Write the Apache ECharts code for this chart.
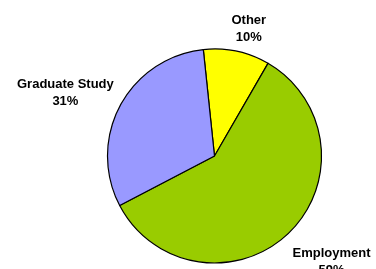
<!DOCTYPE html>
<html>
<head>
<meta charset="utf-8">
<script src="https://cdn.jsdelivr.net/npm/echarts@6/dist/echarts.min.js"></script>
<style>
html, body { margin: 0; padding: 0; background: #fff; }
#main { width: 376px; height: 269px; }
</style>
</head>
<body>
<div id="main"></div>
<script>
// slices go clockwise from the top: Other, Employment, Graduate Study
var categories = ['Other', 'Employment', 'Graduate Study'];
var values = [10, 59, 31];
var colors = ['#FFFF00', '#99CC00', '#9999FF'];

// small nudges so the labels sit where the original put them
var labelShift = [[5, -13], [31, 21], [-41, -8]];

var myChart = echarts.init(document.getElementById('main'));

var data = [];
for (var i = 0; i < categories.length; i++) {
	data.push({
		name: categories[i],
		value: values[i],
		itemStyle: { color: colors[i] }
	});
}

myChart.setOption({
	backgroundColor: '#fff',
	animation: false,
	series: [
		{
			type: 'pie',
			center: [214.5, 156],
			radius: 107,
			startAngle: 96,
			clockwise: true,
			avoidLabelOverlap: false,
			itemStyle: { borderColor: '#000', borderWidth: 1.2 },
			emphasis: { disabled: true },
			label: {
				show: true,
				position: 'outside',
				formatter: '{b}\n{d}%',
				fontFamily: 'Liberation Sans, Arial, sans-serif',
				fontWeight: 'bold',
				fontSize: 13,
				lineHeight: 17,
				color: '#000'
			},
			labelLine: { show: false, length: 10, length2: 0 },
			labelLayout: function (params) {
				var s = labelShift[params.dataIndex];
				return { align: 'center', verticalAlign: 'middle', dx: s[0], dy: s[1] };
			},
			data: data
		}
	]
});
</script>
</body>
</html>
